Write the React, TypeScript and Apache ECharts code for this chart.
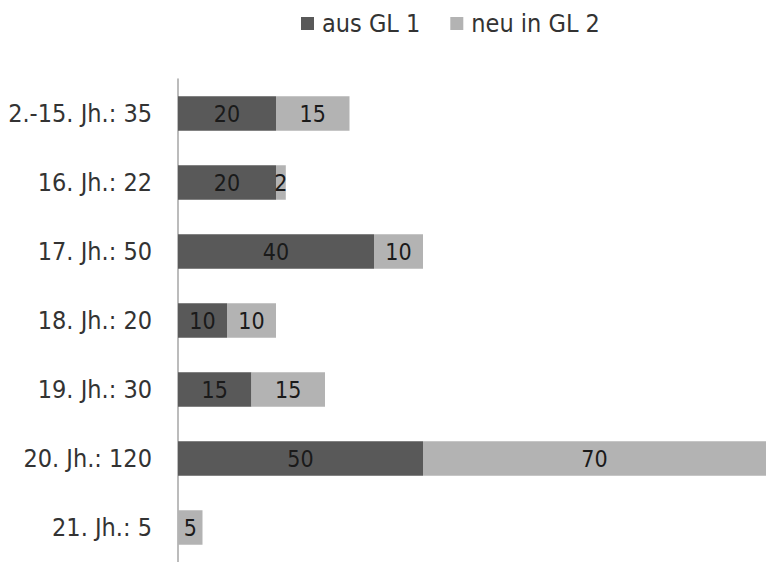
import React, { useEffect, useRef } from "react";
import * as echarts from "echarts";

const categories = [
  "2.-15. Jh.: 35",
  "16. Jh.: 22",
  "17. Jh.: 50",
  "18. Jh.: 20",
  "19. Jh.: 30",
  "20. Jh.: 120",
  "21. Jh.: 5",
];
const ausGL1 = [20, 20, 40, 10, 15, 50, 0];
const neuGL2 = [15, 2, 10, 10, 15, 70, 5];
const seriesNames = ["aus GL 1", "neu in GL 2"];

const FONT = "'Liberation Sans Narrow', 'DejaVu Sans Condensed', 'Liberation Sans', sans-serif";

export default function App() {
  const ref = useRef<HTMLDivElement>(null);
  useEffect(() => {
    if (!ref.current) return;
    const chart = echarts.init(ref.current, undefined, { renderer: "svg" });
    const label = {
      show: true,
      position: "inside",
      color: "#1a1a1a",
      fontFamily: FONT,
      fontSize: 23,
      formatter: (p: any) => (p.value ? String(p.value) : ""),
    };
    chart.setOption({
      animation: false,
      textStyle: { fontFamily: FONT },
      legend: {
        top: 6,
        left: 296,
        itemWidth: 13,
        itemHeight: 13,
        itemGap: 30,
        icon: "rect",
        textStyle: { fontFamily: FONT, fontSize: 25, color: "#333", padding: [0, 0, 0, 3] },
        data: seriesNames,
      },
      grid: { left: 178, top: 79, bottom: -1, right: -8 },
      xAxis: {
        type: "value",
        min: 0,
        max: 120,
        show: false,
      },
      yAxis: {
        type: "category",
        data: categories,
        inverse: true,
        axisLine: { show: true, lineStyle: { color: "#a6a6a6", width: 1.5 } },
        axisTick: { show: false },
        axisLabel: {
          fontFamily: FONT,
          fontSize: 25,
          color: "#333",
          margin: 26,
        },
      },
      series: [
        {
          name: seriesNames[0],
          type: "bar",
          stack: "s",
          data: ausGL1,
          barWidth: "50%",
          itemStyle: { color: "#595959" },
          label,
        },
        {
          name: seriesNames[1],
          type: "bar",
          stack: "s",
          data: neuGL2,
          barWidth: "50%",
          itemStyle: { color: "#b3b3b3" },
          label,
        },
      ],
    });
    return () => chart.dispose();
  }, []);
  return (
    <div
      ref={ref}
      style={{ position: "absolute", left: 0, top: 0, width: 766, height: 562 }}
    />
  );
}
